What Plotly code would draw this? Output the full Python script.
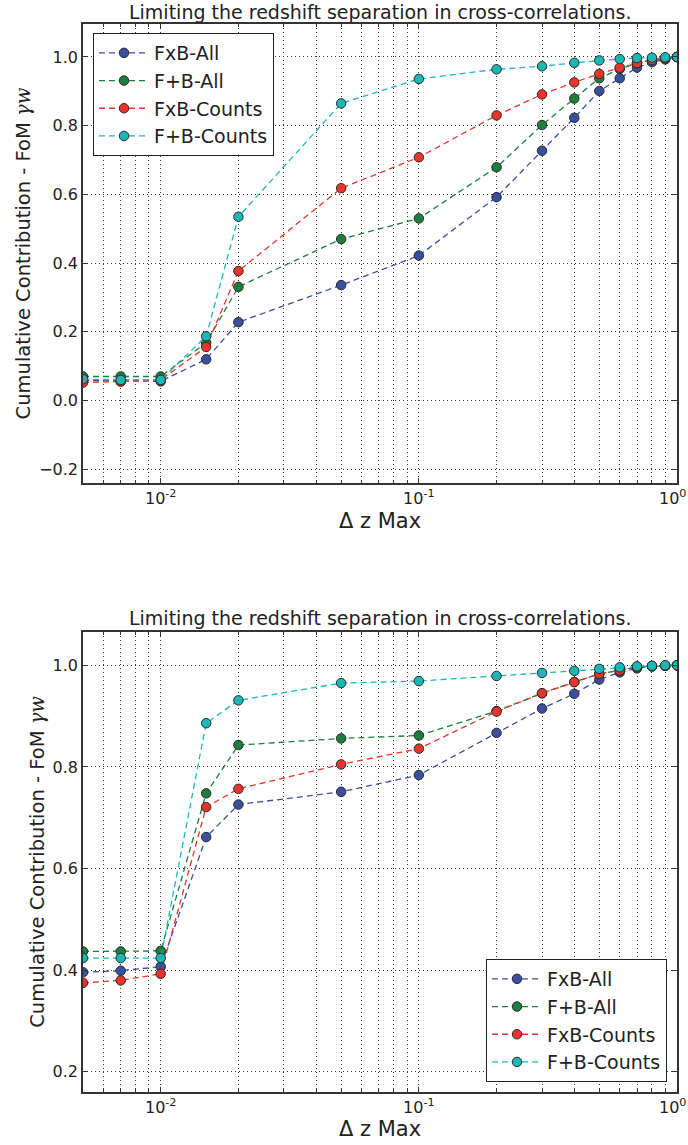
import math
import plotly.graph_objects as go

# ---- data ----
dz_max = [0.005, 0.007, 0.01, 0.015, 0.02, 0.05, 0.1, 0.2, 0.3, 0.4, 0.5, 0.6, 0.7, 0.8, 0.9, 1.0]

series_names = ["FxB-All", "F+B-All", "FxB-Counts", "F+B-Counts"]

top_fxb_all = [0.058, 0.056, 0.056, 0.120, 0.228, 0.336, 0.422, 0.592, 0.727, 0.823, 0.901, 0.938, 0.969, 0.985, 0.993, 1.0]
top_fpb_all = [0.070, 0.070, 0.070, 0.168, 0.331, 0.470, 0.530, 0.679, 0.802, 0.879, 0.938, 0.965, 0.982, 0.992, 0.997, 1.0]
top_fxb_counts = [0.052, 0.055, 0.060, 0.156, 0.377, 0.618, 0.708, 0.830, 0.891, 0.926, 0.951, 0.969, 0.982, 0.991, 0.996, 1.0]
top_fpb_counts = [0.062, 0.060, 0.060, 0.187, 0.535, 0.865, 0.936, 0.964, 0.973, 0.983, 0.990, 0.994, 0.997, 0.998, 0.999, 1.0]

bot_fxb_all = [0.396, 0.399, 0.407, 0.662, 0.726, 0.751, 0.784, 0.867, 0.915, 0.944, 0.972, 0.986, 0.994, 0.998, 0.999, 1.0]
bot_fpb_all = [0.437, 0.437, 0.438, 0.748, 0.843, 0.856, 0.862, 0.910, 0.945, 0.967, 0.983, 0.990, 0.996, 0.998, 0.999, 1.0]
bot_fxb_counts = [0.375, 0.380, 0.393, 0.721, 0.757, 0.805, 0.836, 0.909, 0.945, 0.967, 0.983, 0.990, 0.996, 0.998, 0.999, 1.0]
bot_fpb_counts = [0.424, 0.424, 0.424, 0.886, 0.931, 0.965, 0.969, 0.979, 0.985, 0.989, 0.993, 0.996, 0.998, 0.999, 1.0, 1.0]

x_major_ticks = [0.01, 0.1, 1.0]
x_major_text = ["10<sup>-2</sup>", "10<sup>-1</sup>", ""]
x_edge_label = "10<sup>0</sup>"   # label of the 1.0 tick, kept inside the page
x_minor_ticks = [0.006, 0.007, 0.008, 0.009,
                 0.02, 0.03, 0.04, 0.05, 0.06, 0.07, 0.08, 0.09,
                 0.2, 0.3, 0.4, 0.5, 0.6, 0.7, 0.8, 0.9]
top_y_ticks = [-0.2, 0.0, 0.2, 0.4, 0.6, 0.8, 1.0]
bot_y_ticks = [0.2, 0.4, 0.6, 0.8, 1.0]

title_text = "Limiting the redshift separation in cross-correlations."
x_title = "Δ z Max"
y_title = ("Cumulative Contribution - FoM "
           "<span style=\"font-family:'DejaVu Serif'\"><i>γw</i></span>")

colors = ["#3a4fa0", "#1e7e3e", "#e8352b", "#1cb6b6"]

# ---- figure ----
FONT = "DejaVu Sans"
fig = go.Figure()

top_series = [top_fxb_all, top_fpb_all, top_fxb_counts, top_fpb_counts]
bot_series = [bot_fxb_all, bot_fpb_all, bot_fxb_counts, bot_fpb_counts]

for name, ys, c in zip(series_names, top_series, colors):
    fig.add_trace(go.Scatter(
        x=dz_max, y=ys, name=name, mode="lines+markers",
        line=dict(color=c, width=1.3, dash="6px,4px"),
        marker=dict(size=9.5, color=c, line=dict(color="#2b2b2b", width=1)),
        xaxis="x", yaxis="y", legend="legend"))

for name, ys, c in zip(series_names, bot_series, colors):
    fig.add_trace(go.Scatter(
        x=dz_max, y=ys, name=name, mode="lines+markers",
        line=dict(color=c, width=1.3, dash="6px,4px"),
        marker=dict(size=9.5, color=c, line=dict(color="#2b2b2b", width=1)),
        xaxis="x2", yaxis="y2", legend="legend2"))

W, H = 688, 1145
x_dom = [83 / W, 677 / W]
top_dom = [1 - 483 / H, 1 - 24 / H]
bot_dom = [1 - 1091.7 / H, 1 - 632 / H]

GRID_DASH = "1px,3px"
grid_kw = dict(showgrid=True, griddash=GRID_DASH, gridcolor="#333333", gridwidth=1)
axis_line = dict(showline=True, linecolor="#333333", linewidth=1.6, mirror="ticks",
                 ticks="inside", ticklen=5, tickcolor="#333333", zeroline=False,
                 automargin=False)

def xaxis_cfg(anchor):
    return dict(
        type="log", range=[math.log10(0.005), 0.0], domain=x_dom, anchor=anchor,
        tickmode="array", tickvals=x_major_ticks, ticktext=x_major_text,
        tickfont=dict(family=FONT, size=16, color="#222222"),
        minor=dict(tickmode="array", tickvals=x_minor_ticks, ticks="inside", ticklen=3,
                   tickcolor="#333333", showgrid=True, griddash=GRID_DASH,
                   gridcolor="#333333", gridwidth=1),
        title=dict(text=x_title, font=dict(family=FONT, size=21, color="#222222"), standoff=6),
        **grid_kw, **axis_line)

def yaxis_cfg(anchor, rng, ticks):
    return dict(
        range=rng, anchor=anchor, tickmode="array", tickvals=ticks,
        tickformat=".1f",
        tickfont=dict(family=FONT, size=16, color="#222222"),
        title=dict(text=y_title, font=dict(family=FONT, size=19.5, color="#222222"), standoff=3),
        **grid_kw, **axis_line)

legend_common = dict(bgcolor="white", bordercolor="#222222", borderwidth=1,
                     font=dict(family=FONT, size=19, color="#222222"),
                     tracegroupgap=0, itemwidth=50)

annotations = []
for yname, ypx in (("y", 12), ("y2", 618)):
    annotations.append(dict(
        text=title_text, x=(x_dom[0] + x_dom[1]) / 2, y=1 - ypx / H,
        xref="paper", yref="paper", showarrow=False, xanchor="center", yanchor="middle",
        font=dict(family=FONT, size=19, color="#222222")))
    annotations.append(dict(
        text=x_edge_label, x=1.0, xref="paper", xanchor="right",
        y=0, yref=f"{yname} domain", yanchor="top", yshift=-2,
        showarrow=False, font=dict(family=FONT, size=16, color="#222222")))

fig.update_layout(
    width=W, height=H, margin=dict(l=0, r=0, t=0, b=0, autoexpand=False),
    paper_bgcolor="white", plot_bgcolor="white",
    font=dict(family=FONT, color="#222222"),
    xaxis=xaxis_cfg("y"),
    yaxis=dict(domain=top_dom, **yaxis_cfg("x", [-0.24, 1.096], top_y_ticks)),
    xaxis2=xaxis_cfg("y2"),
    yaxis2=dict(domain=bot_dom, **yaxis_cfg("x2", [0.161, 1.0655], bot_y_ticks)),
    legend=dict(x=93 / W, y=1 - 33 / H, xanchor="left", yanchor="top", **legend_common),
    legend2=dict(x=667 / W, y=1 - 1082 / H, xanchor="right", yanchor="bottom", **legend_common),
    annotations=annotations,
)

fig.write_html("out.html")
